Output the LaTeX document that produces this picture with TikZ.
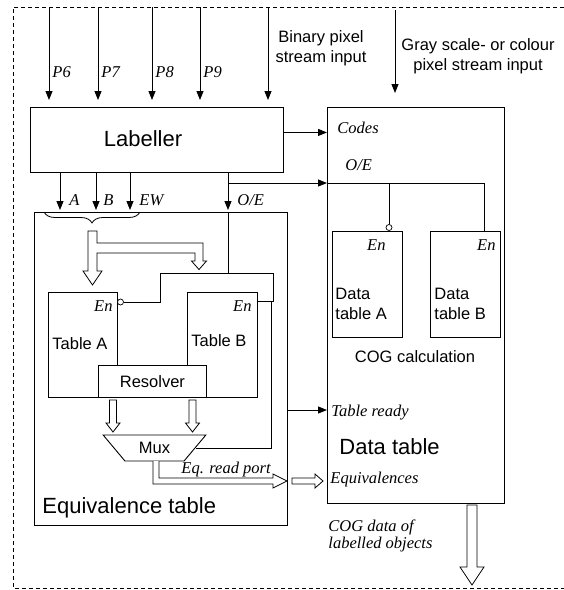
\documentclass[tikz,border=0pt]{standalone}
\usepackage{fontspec}
\setmainfont{Liberation Serif}
\setsansfont{Liberation Sans}
\usepackage{tikz}
\usetikzlibrary{arrows.meta, positioning, shapes.geometric, decorations.pathreplacing}

\begin{document}
\begin{tikzpicture}[
  x=1pt, y=-1pt,
  line width=0.9pt,
  blk/.style  = {rectangle, draw, anchor=north west, inner sep=0pt},
  sf/.style   = {font=\sffamily\fontsize{16.5}{20}\selectfont, inner sep=0pt, align=center},
  big/.style  = {font=\sffamily\fontsize{22}{26}\selectfont, inner sep=0pt},
  sig/.style  = {font=\itshape\fontsize{16.5}{17}\selectfont, inner sep=0pt, align=left},
  arr/.style  = {-{Triangle[length=9pt,width=7pt]}},
  hol/.style  = {draw, fill=white, line width=0.8pt, line join=miter},
  bub/.style  = {circle, draw, fill=white, inner sep=0pt, minimum size=6pt, line width=0.7pt},
  frame/.style = {dash pattern=on 4pt off 3pt, line width=0.7pt},
]
\useasboundingbox (0,0) rectangle (564,590);

\draw[frame] (564,7) -- (13,7) -- (13,588) -- (564,588);

% blocks
\node[blk, minimum width=253pt, minimum height=65pt] (lab) at (30,107) {};
\node[big, anchor=base] (labtxt) at (143,146) {Labeller};
\node[blk, minimum width=177pt, minimum height=396pt] (dtab) at (327,107) {};
\node[blk, minimum width=253pt, minimum height=313pt] (eqt) at (34,212) {};
\node[blk, minimum width=69pt, minimum height=105pt] (taba) at (48,292) {};
\node[blk, minimum width=70pt, minimum height=105pt] (tabb) at (187,292) {};
\node[sf, blk, fill=white, minimum width=108pt, minimum height=32pt] (res) at (98,365) {Resolver};
\node[sf, trapezium, draw, trapezium angle=45, shape border rotate=180,
      trapezium stretches=true, minimum width=103pt, minimum height=26pt] (mux) at (154.5,448) {Mux};
\node[blk, minimum width=70pt, minimum height=106pt] (dta) at (332,231) {};
\node[blk, minimum width=70pt, minimum height=106pt] (dtb) at (430,231) {};

% texts
\node[sf, anchor=north] (bintxt) at (321,30) {Binary pixel\\stream input};
\node[sf, anchor=north] (graytxt) at (478,38) {Gray scale- or colour\\pixel stream input};
\node[sf, anchor=base west] (tatxt) at (52,349) {Table A};
\node[sf, anchor=base west] (tbtxt) at (191,346) {Table B};
\node[sf, anchor=north west, align=left] (datxt) at (335,288) {Data\\table A};
\node[sf, anchor=north west, align=left] (dbtxt) at (434,288) {Data\\table B};
\node[sf, anchor=base] (cogtxt) at (415,362) {COG calculation};
\node[big, anchor=base west] (dttxt) at (339,454) {Data table};
\node[big, anchor=base west] (eqtxt) at (42,513) {Equivalence table};
\node[sig, anchor=base east] (ena) at (113,311) {En};
\node[sig, anchor=base east] (enb) at (252,311) {En};
\node[sig, anchor=base east] (enda) at (386,250) {En};
\node[sig, anchor=base east] (endb) at (496,250) {En};
\node[sig, anchor=base west] (p6) at (52,77) {P6};
\node[sig, anchor=base west] (p7) at (101,77) {P7};
\node[sig, anchor=base west] (p8) at (155,77) {P8};
\node[sig, anchor=base west] (p9) at (203,77) {P9};
\node[sig, anchor=base west] (atxt) at (69,205) {A};
\node[sig, anchor=base west] (btxt) at (103,205) {B};
\node[sig, anchor=base west] (ewtxt) at (139,205) {EW};
\node[sig, anchor=base west] (oetxt) at (237,205) {O/E};
\node[sig, anchor=base west] (codes) at (337,133) {Codes};
\node[sig, anchor=base west] (oedt) at (345,170) {O/E};
\node[sig, anchor=base west] (ready) at (331,416) {Table ready};
\node[sig, anchor=base west] (equiv) at (330,483) {Equivalences};
\node[sig, anchor=base west] (rdport) at (181,473) {Eq. read port};
\node[sig, anchor=north west] (cogout) at (328,519) {COG data of\\labelled objects};

% inputs
\coordinate (in6) at (49,7);
\coordinate (in7) at (98,7);
\coordinate (in8) at (152,7);
\coordinate (in9) at (200,7);
\coordinate (inb) at (268,7);
\coordinate (ing) at (395,10);
\foreach \c in {in6,in7,in8,in9,inb}
  \draw[arr, shorten >=7pt] (\c) -- (\c |- lab.north);
\draw[arr, shorten >=14pt] (ing) -- (ing |- dtab.north);

% labeller outputs
\draw[arr] ([yshift=7.5pt]lab.east) -- ([yshift=7.5pt]lab.east -| dtab.west);
\foreach \xx in {60,96,130}
  \draw[arr, shorten >=2pt] (lab.south -| \xx,0) -- (eqt.north -| \xx,0);
\draw[arr, shorten >=2pt] (lab.south -| 228,0) -- (eqt.north -| 228,0);
\coordinate (oesplit) at (228,183);
\draw[arr] (oesplit) -- (oesplit -| dtab.west);
\draw (oesplit -| dtab.west) -| ([xshift=-16pt]dtb.north east);
\node[bub] (bubda) at (389,227.5) {};
\draw (bubda.north |- oesplit) -- (bubda.north);

% enables inside the equivalence table
\coordinate (oej) at (228,273);
\draw (eqt.north -| oej) -- (oej);
\node[bub] (bubta) at (120.5,302) {};
\draw (oej) -| (160,302) -- (bubta.east);
\draw (oej) -| (273,301) -- (tabb.east |- 0,301);
\coordinate (sel) at (271,301);
\draw (sel) |- (mux.east);
\draw[arr] (eqt.east |- 0,410) -- (dtab.west |- 0,410);

% brace and wide arrows
\draw[decorate, decoration={brace, mirror, amplitude=11pt}, line width=0.8pt] (44,212) -- (140,212);
\draw[hol] (88,231) -- (88,271) -- (83,271) -- (92.5,285) -- (102,271) -- (97,271) -- (97,253)
  -- (195,253) -- (195,261) -- (191.5,261) -- (199,269.5) -- (206.5,261) -- (203,261)
  -- (203,243) -- (97,243) -- (97,231) -- cycle;
\foreach \cx in {113,192.5}
  \draw[hol] ({\cx-3.5},400) -- ++(0,23) -- ++(-3.5,0) -- ++(7,9) -- ++(7,-9) -- ++(-3.5,0) -- ++(0,-23) -- cycle;
\draw[hol] (153,461) -- (153,484) -- (273,484) -- (273,488) -- (287,481) -- (273,474) -- (273,478) -- (159,478) -- (159,461);
\draw[hol] (292,478) -- (315,478) -- (315,474) -- (323,481) -- (315,488) -- (315,484) -- (292,484) -- cycle;
\draw[hol] (467,505) -- (467,567) -- (460,567) -- (472,585) -- (484,567) -- (477,567) -- (477,505) -- cycle;

\end{tikzpicture}
\end{document}
